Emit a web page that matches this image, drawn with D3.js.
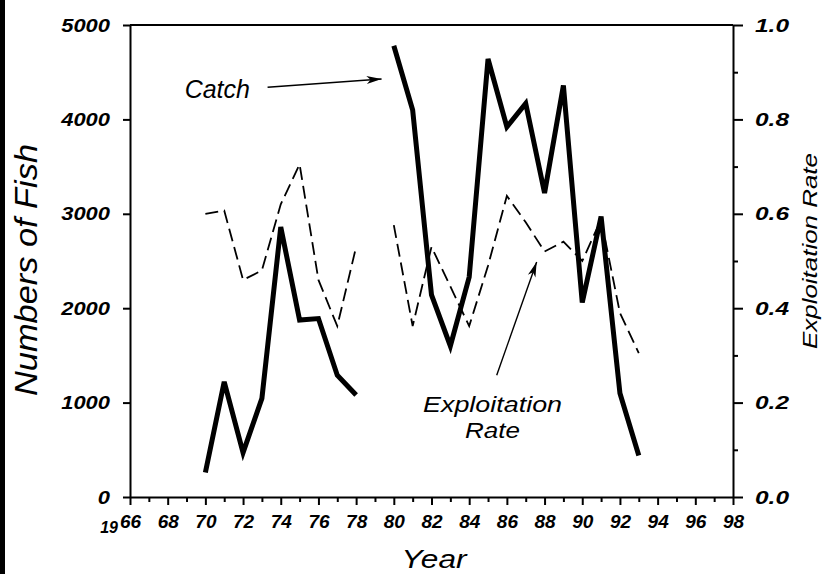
<!DOCTYPE html>
<html>
<head>
<meta charset="utf-8">
<script src="https://cdn.jsdelivr.net/npm/d3@7"></script>
<style>
  html, body { margin: 0; padding: 0; background: #fff; }
  svg { display: block; }
  text { font-family: "Liberation Sans", Arial, sans-serif; fill: #000; }
</style>
</head>
<body>
<svg id="chart" width="824" height="574"></svg>
<script>
// ---- data ----
const years = [70,71,72,73,74,75,76,77,78,79,80,81,82,83,84,85,86,87,88,89,90,91,92,93];
const catchFish = [260,1220,470,1045,2860,1875,1890,1290,1080,null,4780,4100,2140,1600,2330,4640,3920,4170,3220,4360,2060,2970,1100,440];
const exploitRate = [0.600,0.607,0.460,0.480,0.620,0.705,0.460,0.362,0.530,null,0.576,0.362,0.530,0.446,0.362,0.490,0.638,0.582,0.520,0.541,0.500,0.588,0.390,0.305];
const xMajorTicks = [66,68,70,72,74,76,78,80,82,84,86,88,90,92,94,96,98];
const xMinorTicks = [67,69,71,73,75,77,79,81,83,85,87,89,91,93,95,97];
const leftTicks = [0,1000,2000,3000,4000,5000];
const rightMajorTicks = [0,0.2,0.4,0.6,0.8,1.0];
const rightMinorTicks = [0.1,0.3,0.5,0.7,0.9];
// annotations in data units: [year, value]
const catchLabel = {text: "Catch", at: [68.9, 4227]};
const catchArrow = [[73.3, 4340], [79.35, 4428]];
const rateLabel = {lines: ["Exploitation", "Rate"], at: [85.24, 0.180, 0.125]};
const rateArrow = [[85.46, 0.258], [87.58, 0.498]];

// ---- layout ----
const svg = d3.select("#chart");
const x = d3.scaleLinear().domain([66, 98]).range([130, 733]);
const yL = d3.scaleLinear().domain([0, 5000]).range([497, 25]);
const yR = d3.scaleLinear().domain([0, 1]).range([497, 25]);

// left black strip (scan edge)
svg.append("rect").attr("x", 0).attr("y", 0).attr("width", 5).attr("height", 574).attr("fill", "#000");

const tickFont = g => g.selectAll("text")
  .attr("font-size", 19).attr("font-weight", "bold").attr("font-style", "italic")
  .attr("fill", "#000").attr("font-family", "Liberation Sans, Arial, sans-serif");

// left axis
const gL = svg.append("g").attr("transform", `translate(${x(66)},0)`)
  .call(d3.axisLeft(yL).tickValues(leftTicks).tickSize(7).tickSizeOuter(0).tickPadding(13).tickFormat(d3.format("d")));
gL.call(tickFont);
gL.selectAll("text").attr("textLength", d => String(d).length * 12.2).attr("lengthAdjust", "spacingAndGlyphs");

// right axis
const gR = svg.append("g").attr("transform", `translate(${x(98)},0)`)
  .call(d3.axisRight(yR).tickValues(rightMajorTicks).tickSize(10).tickSizeOuter(0).tickPadding(12).tickFormat(d3.format(".1f")));
gR.call(tickFont);
gR.selectAll("text").attr("textLength", 34).attr("lengthAdjust", "spacingAndGlyphs");
svg.append("g").attr("transform", `translate(${x(98)},0)`)
  .call(d3.axisRight(yR).tickValues(rightMinorTicks).tickSize(5).tickSizeOuter(0).tickFormat(""))
  .select(".domain").remove();

// bottom axis
const gB = svg.append("g").attr("transform", `translate(0,${yL(0)})`)
  .call(d3.axisBottom(x).tickValues(xMajorTicks).tickSize(8).tickSizeOuter(0).tickPadding(10)
    .tickFormat(d => String(d % 100).padStart(2, "0")));
gB.call(tickFont);
svg.append("g").attr("transform", `translate(0,${yL(0)})`)
  .call(d3.axisBottom(x).tickValues(xMinorTicks).tickSize(5).tickSizeOuter(0).tickFormat(""))
  .select(".domain").remove();
// "19" century prefix on first label
svg.append("text").attr("x", x(66) - 12).attr("y", 533)
  .attr("text-anchor", "end").attr("font-size", 16).attr("font-weight", "bold").attr("font-style", "italic")
  .text("19");

// style axis lines
svg.selectAll(".domain").attr("stroke", "#000").attr("stroke-width", 2);
svg.selectAll(".tick line").attr("stroke", "#000").attr("stroke-width", 2);

// top frame
svg.append("line").attr("x1", x(66)).attr("x2", x(98)).attr("y1", yL(5000)).attr("y2", yL(5000))
  .attr("stroke", "#000").attr("stroke-width", 2);

// ---- series ----
const pts = years.map((yr, i) => ({yr, c: catchFish[i], r: exploitRate[i]}));
const rateLine = d3.line().defined(d => d.r != null).x(d => x(d.yr)).y(d => yR(d.r));
const catchLine = d3.line().defined(d => d.c != null).x(d => x(d.yr)).y(d => yL(d.c));

svg.append("path").datum(pts).attr("d", rateLine)
  .attr("fill", "none").attr("stroke", "#000").attr("stroke-width", 1.8)
  .attr("stroke-dasharray", "13,6");
svg.append("path").datum(pts).attr("d", catchLine)
  .attr("fill", "none").attr("stroke", "#000").attr("stroke-width", 5)
  .attr("stroke-linejoin", "miter").attr("stroke-miterlimit", 4);

// ---- arrows ----
svg.append("defs").append("marker").attr("id", "arrow")
  .attr("viewBox", "-16 -6 18 12").attr("refX", 0).attr("refY", 0)
  .attr("markerWidth", 18).attr("markerHeight", 12).attr("markerUnits", "userSpaceOnUse")
  .attr("orient", "auto")
  .append("path").attr("d", "M-15,-4 L0,0 L-15,4 L-11,0 Z").attr("fill", "#000");

svg.append("line")
  .attr("x1", x(catchArrow[0][0])).attr("y1", yL(catchArrow[0][1]))
  .attr("x2", x(catchArrow[1][0])).attr("y2", yL(catchArrow[1][1]))
  .attr("stroke", "#000").attr("stroke-width", 1.6).attr("marker-end", "url(#arrow)");
svg.append("line")
  .attr("x1", x(rateArrow[0][0])).attr("y1", yR(rateArrow[0][1]))
  .attr("x2", x(rateArrow[1][0])).attr("y2", yR(rateArrow[1][1]))
  .attr("stroke", "#000").attr("stroke-width", 1.4).attr("marker-end", "url(#arrow)");

// ---- annotation texts ----
svg.append("text").attr("x", x(catchLabel.at[0])).attr("y", yL(catchLabel.at[1]))
  .attr("font-size", 25).attr("font-style", "italic").text(catchLabel.text);
svg.append("text").attr("x", x(rateLabel.at[0])).attr("y", yR(rateLabel.at[1]))
  .attr("text-anchor", "middle").attr("font-size", 22).attr("font-style", "italic")
  .attr("textLength", 139).attr("lengthAdjust", "spacingAndGlyphs").text(rateLabel.lines[0]);
svg.append("text").attr("x", x(rateLabel.at[0])).attr("y", yR(rateLabel.at[2]))
  .attr("text-anchor", "middle").attr("font-size", 22).attr("font-style", "italic")
  .attr("textLength", 55).attr("lengthAdjust", "spacingAndGlyphs").text(rateLabel.lines[1]);

// ---- axis titles ----
svg.append("text").attr("transform", "translate(37,270) rotate(-90)")
  .attr("text-anchor", "middle").attr("font-size", 31).attr("font-style", "italic")
  .attr("textLength", 252).attr("lengthAdjust", "spacingAndGlyphs").text("Numbers of Fish");
svg.append("text").attr("transform", "translate(817,251) rotate(-90)")
  .attr("text-anchor", "middle").attr("font-size", 21).attr("font-style", "italic")
  .attr("textLength", 196).attr("lengthAdjust", "spacingAndGlyphs").text("Exploitation Rate");
svg.append("text").attr("x", 434).attr("y", 568)
  .attr("text-anchor", "middle").attr("font-size", 26).attr("font-style", "italic")
  .attr("textLength", 65).attr("lengthAdjust", "spacingAndGlyphs").text("Year");
</script>
</body>
</html>
